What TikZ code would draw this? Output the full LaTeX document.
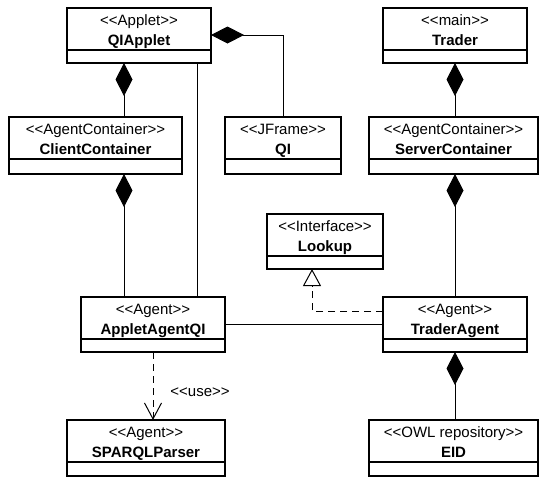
\documentclass[tikz,border=0pt]{standalone}
\usepackage{fontspec}
% own family: no TeX ligatures, so << and >> stay as typed
\newfontfamily\umlfont{Liberation Sans}
\usetikzlibrary{arrows.meta}

% UML class box: name, x1, y1, x2, y2, stereotype, class name
\newcommand\umlclass[7]{%
  \node[classbox, minimum width={(#4-#2)*1pt}, minimum height={(#5-#3)*1pt}]
    (#1) at ({(#2+#4)/2},{(#3+#5)/2}) {};
  \draw[sepline] (#1.west |- {0,#3+42}) -- (#1.east |- {0,#3+42});
  \node[stereo] (#1-st) at ({(#2+#4)/2},{#3+17}) {#6};
  \node[cname] (#1-nm) at ({(#2+#4)/2},{#3+37}) {#7};
}

\begin{document}
\begin{tikzpicture}[x=1pt,y=-1pt,
  classbox/.style={draw, line width=1.6pt, inner sep=0pt, outer sep=0pt, fill=white},
  sepline/.style={line width=1.3pt},
  stereo/.style={font=\umlfont\fontsize{15}{17}\selectfont, anchor=base, inner sep=0pt},
  cname/.style={font=\umlfont\fontsize{15}{17}\selectfont\bfseries, anchor=base, inner sep=0pt},
  link/.style={line width=1pt},
  comp/.style={line width=1pt, {Diamond[length=33pt,width=17pt]}-},
  realize/.style={line width=1pt, dash pattern=on 7pt off 5pt,
    -{Triangle[open,length=17pt,width=18pt,line width=1pt]}},
  dep/.style={line width=1pt, dash pattern=on 7pt off 5pt,
    -{Straight Barb[length=16pt,width=17pt,line width=1pt]}},
  lbl/.style={font=\umlfont\fontsize{15}{17}\selectfont, inner sep=0pt}
]
\useasboundingbox (0,0) rectangle (540,477);

\umlclass{qiapplet}{67}{8}{211}{63}{<<Applet>>}{QIApplet}
\umlclass{trader}{383}{8}{527}{63}{<<main>>}{Trader}
\umlclass{client}{9}{117}{182}{174}{<<AgentContainer>>}{ClientContainer}
\umlclass{qi}{225}{117}{341}{174}{<<JFrame>>}{QI}
\umlclass{server}{369}{117}{538}{174}{<<AgentContainer>>}{ServerContainer}
\umlclass{lookup}{267}{214}{383}{269}{<<Interface>>}{Lookup}
\umlclass{appletagent}{81}{297}{225}{352}{<<Agent>>}{AppletAgentQI}
\umlclass{traderagent}{383}{297}{527}{352}{<<Agent>>}{TraderAgent}
\umlclass{sparql}{67}{420}{225}{476}{<<Agent>>}{SPARQLParser}
\umlclass{eid}{369}{420}{538}{476}{<<OWL repository>>}{EID}

% compositions
\draw[comp] (qiapplet.south -| {124,0}) -- (client.north -| {124,0});
\draw[comp] (qiapplet.east |- {0,35}) -| (qi.north);
\draw[comp] (trader.south -| {455,0}) -- (server.north -| {455,0});
\draw[comp] (client.south -| {124,0}) -- (appletagent.north -| {124,0});
\draw[comp] (server.south -| {455,0}) -- (traderagent.north -| {455,0});
\draw[comp] (traderagent.south -| {455,0}) -- (eid.north -| {455,0});

% associations
\draw[link] (qiapplet.south -| {197,0}) -- (appletagent.north -| {197,0});
\draw[link] (appletagent.east) -- (traderagent.west);

% realization of the Lookup interface
\draw[realize] (traderagent.west |- {0,311}) -| (lookup.south -| {312,0});

% usage dependency
\draw[dep] (appletagent.south) -- (sparql.north -| appletagent.south);
\node[lbl] (uselbl) at (200,392) {<<use>>};
\end{tikzpicture}
\end{document}
